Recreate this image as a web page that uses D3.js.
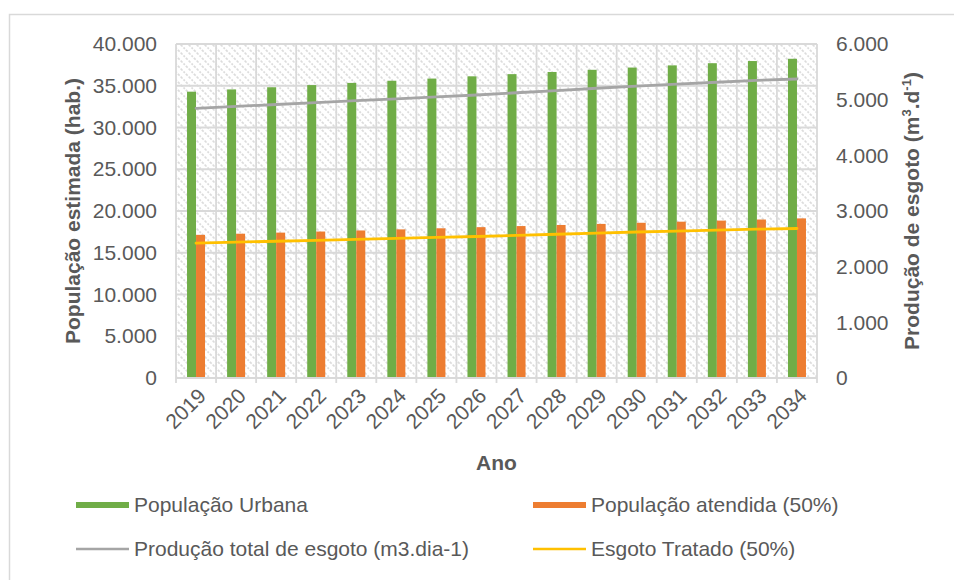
<!DOCTYPE html>
<html>
<head>
<meta charset="utf-8">
<script src="https://cdn.jsdelivr.net/npm/d3@7"></script>
<style>
  html, body { margin: 0; padding: 0; background: #fff; }
  svg { display: block; font-family: "Liberation Sans", Arial, sans-serif; }
</style>
</head>
<body>
<svg id="chart" width="954" height="580"></svg>
<script>
// Projected urban population and sewage production, 2019–2034
const anos = ["2019","2020","2021","2022","2023","2024","2025","2026","2027","2028","2029","2030","2031","2032","2033","2034"];
const populacaoUrbana = [34290, 34560, 34820, 35080, 35340, 35600, 35860, 36130, 36390, 36650, 36910, 37180, 37440, 37700, 37960, 38230];
const populacaoAtendida = [17145, 17280, 17410, 17540, 17670, 17800, 17930, 18065, 18195, 18325, 18455, 18590, 18720, 18850, 18980, 19115];
const producaoEsgoto = [4845, 4879, 4913, 4947, 4981, 5015, 5050, 5084, 5124, 5164, 5205, 5245, 5279, 5313, 5348, 5371];
const esgotoTratado = [2423, 2440, 2457, 2474, 2491, 2508, 2525, 2542, 2562, 2582, 2603, 2623, 2640, 2657, 2674, 2686];
const ticksPopulacao = [0, 5000, 10000, 15000, 20000, 25000, 30000, 35000, 40000];
const ticksEsgoto = [0, 1000, 2000, 3000, 4000, 5000, 6000];

const cores = { urbana: "#70AD47", atendida: "#ED7D31", producao: "#A5A5A5", tratado: "#FFC000" };
const grid = "#D9D9D9";
const textColor = "#595959";
const fs = 21;

const svg = d3.select("#chart");
const plot = { left: 176, right: 817, top: 44, bottom: 378 };

// number format with "." as thousands separator
const fmt = d3.formatLocale({ decimal: ",", thousands: ".", grouping: [3], currency: ["R$", ""] }).format(",d");

const x0 = d3.scaleBand().domain(anos).range([plot.left, plot.right]).padding(0);
const barW = 9;
const x1 = d3.scaleBand().domain(["urbana", "atendida"]).range([0, barW * 2]);
const yL = d3.scaleLinear().domain([0, 40000]).range([plot.bottom, plot.top]);
const yR = d3.scaleLinear().domain([0, 6000]).range([plot.bottom, plot.top]);

// outer chart frame
svg.append("rect").attr("x", 9.5).attr("y", 14.5).attr("width", 1000).attr("height", 700)
  .attr("fill", "#fff").attr("stroke", grid).attr("stroke-width", 1.5);

// diagonal hatch fill for the plot area
const defs = svg.append("defs");
const pat = defs.append("pattern").attr("id", "hatch").attr("patternUnits", "userSpaceOnUse")
  .attr("width", 8).attr("height", 8);
pat.append("rect").attr("width", 8).attr("height", 8).attr("fill", "#fff");
pat.append("path").attr("d", "M-1,-1 L9,9 M-1,7 L1,9 M7,-1 L9,1")
  .attr("stroke", "#DCDCDC").attr("stroke-width", 1.6).attr("stroke-dasharray", "2.6,1.4");

svg.append("rect").attr("x", plot.left).attr("y", plot.top)
  .attr("width", plot.right - plot.left).attr("height", plot.bottom - plot.top)
  .attr("fill", "url(#hatch)");

// horizontal gridlines
svg.append("g").selectAll("line").data(ticksPopulacao).join("line")
  .attr("x1", plot.left).attr("x2", plot.right)
  .attr("y1", d => yL(d)).attr("y2", d => yL(d))
  .attr("stroke", grid).attr("stroke-width", 1.8);

// vertical gridlines at category boundaries
const fronteiras = anos.map(a => x0(a)).concat([plot.right]);
svg.append("g").selectAll("line").data(fronteiras).join("line")
  .attr("x1", d => d).attr("x2", d => d)
  .attr("y1", plot.top).attr("y2", plot.bottom + 5)
  .attr("stroke", grid).attr("stroke-width", 1.8);

// bars
const series = [
  { key: "urbana", values: populacaoUrbana },
  { key: "atendida", values: populacaoAtendida }
];
const offset = x0.bandwidth() / 2 - barW;
series.forEach(s => {
  svg.append("g").selectAll("rect").data(s.values).join("rect")
    .attr("x", (d, i) => x0(anos[i]) + offset + x1(s.key))
    .attr("y", d => yL(d))
    .attr("width", x1.bandwidth())
    .attr("height", d => plot.bottom - yL(d))
    .attr("fill", cores[s.key]);
});

// lines on the secondary axis
const linha = d3.line().x((d, i) => x0(anos[i]) + x0.bandwidth() / 2).y(d => yR(d));
[[producaoEsgoto, cores.producao], [esgotoTratado, cores.tratado]].forEach(([vals, cor]) => {
  svg.append("path").datum(vals).attr("d", linha)
    .attr("fill", "none").attr("stroke", cor).attr("stroke-width", 2.8).attr("stroke-linecap", "round");
});

// left axis labels
const axL = svg.append("g").attr("transform", `translate(${plot.left - 19},0)`)
  .call(d3.axisLeft(yL).tickValues(ticksPopulacao).tickFormat(fmt).tickSize(0).tickPadding(0));
axL.select(".domain").remove();
axL.selectAll("text").attr("font-size", fs).attr("fill", textColor).attr("font-family", "Liberation Sans, Arial, sans-serif");

// right axis labels
const axR = svg.append("g").attr("transform", `translate(${plot.right + 19},0)`)
  .call(d3.axisRight(yR).tickValues(ticksEsgoto).tickFormat(fmt).tickSize(0).tickPadding(0));
axR.select(".domain").remove();
axR.selectAll("text").attr("font-size", fs).attr("fill", textColor).attr("font-family", "Liberation Sans, Arial, sans-serif");

// bottom axis line and rotated year labels
svg.append("line").attr("x1", plot.left).attr("x2", plot.right)
  .attr("y1", plot.bottom).attr("y2", plot.bottom).attr("stroke", grid).attr("stroke-width", 1.8);
svg.append("g").selectAll("text").data(anos).join("text")
  .attr("transform", d => `translate(${x0(d) + x0.bandwidth() / 2 + 6},${plot.bottom + 14}) rotate(-45)`)
  .attr("text-anchor", "end").attr("dy", "0.35em")
  .attr("font-size", fs).attr("fill", textColor).text(d => d);

// axis titles
svg.append("text").attr("x", (plot.left + plot.right) / 2).attr("y", 470)
  .attr("text-anchor", "middle").attr("font-size", fs).attr("font-weight", "bold")
  .attr("fill", textColor).text("Ano");

svg.append("text").attr("transform", `translate(80,${(plot.top + plot.bottom) / 2}) rotate(-90)`)
  .attr("text-anchor", "middle").attr("font-size", fs).attr("font-weight", "bold")
  .attr("fill", textColor).text("População estimada (hab.)");

const tR = svg.append("text").attr("transform", `translate(919,${(plot.top + plot.bottom) / 2}) rotate(-90)`)
  .attr("text-anchor", "middle").attr("font-size", fs).attr("font-weight", "bold").attr("fill", textColor);
tR.append("tspan").text("Produção de esgoto (m");
tR.append("tspan").attr("font-size", 13).attr("dy", -8).text("3");
tR.append("tspan").attr("dy", 8).text(".d");
tR.append("tspan").attr("font-size", 13).attr("dy", -8).text("-1");
tR.append("tspan").attr("dy", 8).text(")");

// legend
const legenda = [
  { nome: "População Urbana", cor: cores.urbana, tipo: "bar", x: 76, y: 505 },
  { nome: "População atendida (50%)", cor: cores.atendida, tipo: "bar", x: 533, y: 505 },
  { nome: "Produção total de esgoto (m3.dia-1)", cor: cores.producao, tipo: "line", x: 76, y: 549 },
  { nome: "Esgoto Tratado (50%)", cor: cores.tratado, tipo: "line", x: 533, y: 549 }
];
const lg = svg.append("g").selectAll("g").data(legenda).join("g")
  .attr("transform", d => `translate(${d.x},${d.y})`);
lg.filter(d => d.tipo === "bar").append("rect")
  .attr("x", 0).attr("y", -3).attr("width", 53).attr("height", 6).attr("fill", d => d.cor);
lg.filter(d => d.tipo === "line").append("line")
  .attr("x1", 0).attr("x2", 53).attr("y1", 0).attr("y2", 0)
  .attr("stroke", d => d.cor).attr("stroke-width", 2.5);
lg.append("text").attr("x", 58).attr("dy", "0.35em").attr("font-size", fs)
  .attr("fill", textColor).text(d => d.nome);
</script>
</body>
</html>
